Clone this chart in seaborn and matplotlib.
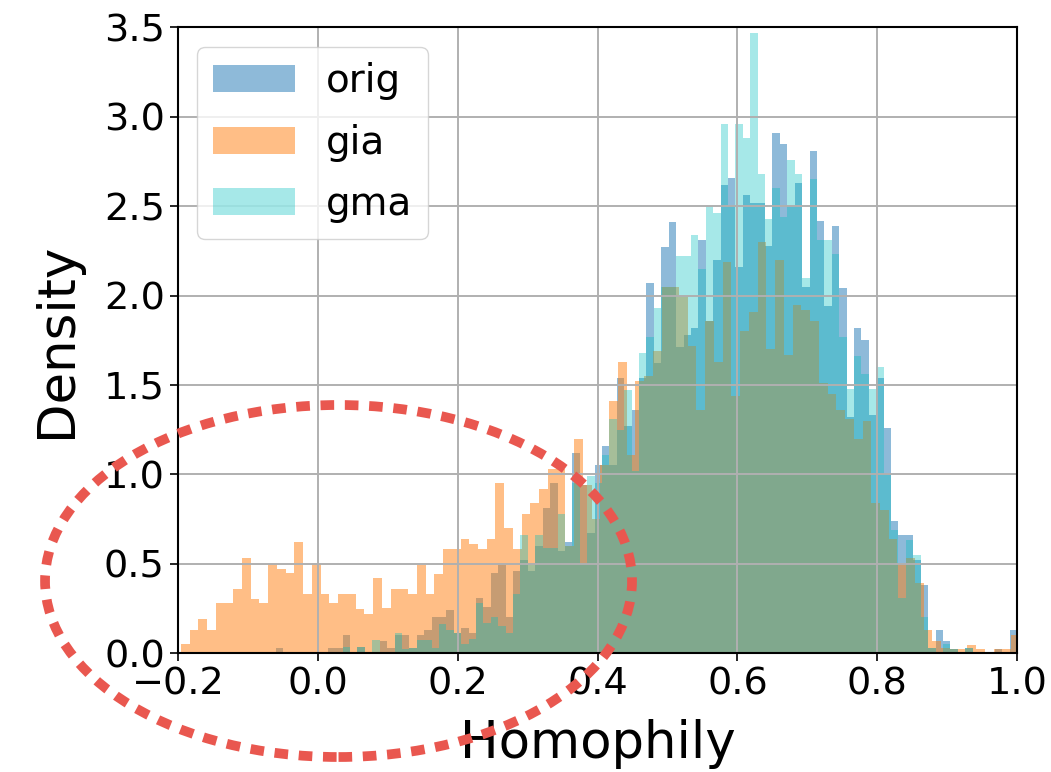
import numpy as np
import matplotlib
matplotlib.use("Agg")
import matplotlib.pyplot as plt
from matplotlib.patches import Patch, Ellipse
import seaborn as sns

# ---------------- data (densities per bin) ----------------
series_names = ["orig", "gia", "gma"]

# gia: 96 bins of width 0.0125 starting at -0.196
gia_start, gia_width = -0.196, 0.0125
gia_density = [
    0.05, 0.13, 0.19, 0.13, 0.28, 0.28, 0.36, 0.53, 0.30, 0.28,
    0.50, 0.47, 0.45, 0.62, 0.33, 0.50, 0.33, 0.28, 0.33, 0.33,
    0.245, 0.22, 0.42, 0.25, 0.36, 0.36, 0.33, 0.49, 0.33, 0.44,
    0.58, 0.58, 0.64, 0.61, 0.58, 0.64, 0.95, 0.70, 0.58, 0.78,
    0.84, 0.92, 1.03, 1.03, 0.60, 1.20, 0.94, 0.75, 1.05, 1.41,
    1.63, 1.11, 1.52, 1.55, 1.69, 2.05, 2.05, 2.00, 1.72, 1.36,
    1.86, 1.63, 2.19, 1.44, 1.80, 1.91, 2.30, 1.70, 2.20, 1.67,
    1.95, 1.92, 1.86, 1.51, 1.45, 1.36, 1.31, 1.20, 1.30, 0.84,
    0.80, 0.64, 0.50, 0.53, 0.39, 0.13, 0.07, 0.03, 0.02, 0.02,
    0.045, 0.02, 0.0, 0.02, 0.02, 0.10,
]

# orig and gma: 100 bins of width 0.0106 starting at -0.06
og_start, og_width = -0.06, 0.0106
orig_density = [
    0.03, 0.0, 0.0, 0.0, 0.0, 0.0, 0.0, 0.03, 0.03, 0.10,
    0.0, 0.035, 0.0, 0.0, 0.065, 0.03, 0.10, 0.10, 0.03, 0.10,
    0.13, 0.20, 0.20, 0.24, 0.11, 0.14, 0.11, 0.31, 0.26, 0.45,
    0.49, 0.20, 0.46, 0.52, 0.46, 0.60, 0.81, 0.95, 0.57, 0.62,
    1.12, 0.94, 0.67, 1.05, 1.16, 1.05, 1.54, 1.27, 1.36, 1.54,
    2.07, 1.62, 2.27, 2.41, 1.71, 1.78, 1.82, 2.31, 1.86, 2.20,
    2.62, 2.66, 2.16, 2.56, 2.52, 2.52, 2.28, 2.91, 2.85, 2.50,
    2.63, 2.05, 2.81, 2.42, 1.94, 2.39, 2.04, 1.32, 1.82, 1.75,
    1.33, 1.54, 1.26, 0.74, 0.66, 0.66, 0.52, 0.38, 0.03, 0.13,
    0.07, 0.02, 0.0, 0.03, 0.0, 0.0, 0.0, 0.02, 0.0, 0.13,
]
gma_density = [
    0.0, 0.0, 0.0, 0.0, 0.0, 0.0, 0.0, 0.0, 0.0, 0.035,
    0.0, 0.035, 0.0, 0.075, 0.0, 0.0, 0.11, 0.02, 0.03, 0.075,
    0.075, 0.03, 0.16, 0.13, 0.11, 0.05, 0.08, 0.28, 0.17, 0.20,
    0.15, 0.11, 0.33, 0.66, 0.50, 0.66, 0.59, 0.59, 0.78, 0.60,
    0.95, 0.50, 0.99, 0.95, 1.11, 1.31, 1.25, 1.47, 1.02, 1.68,
    1.77, 1.93, 2.05, 2.05, 2.22, 2.22, 2.34, 2.15, 2.50, 2.46,
    2.96, 2.50, 2.96, 2.88, 3.47, 2.68, 2.43, 2.60, 2.44, 2.76,
    2.68, 2.10, 2.65, 2.31, 2.31, 2.23, 1.77, 1.48, 1.66, 1.56,
    1.48, 1.60, 1.00, 0.69, 0.31, 0.63, 0.55, 0.20, 0.03, 0.0,
    0.05, 0.02, 0.0, 0.03, 0.0, 0.0, 0.0, 0.0, 0.0, 0.0,
]

x_ticks = [-0.2, 0.0, 0.2, 0.4, 0.6, 0.8, 1.0]
y_ticks = [0.0, 0.5, 1.0, 1.5, 2.0, 2.5, 3.0, 3.5]
x_label = "Homophily"
y_label = "Density"

# ---------------- styling ----------------
colors = {"orig": "#1f77b4", "gia": "#ff7f0e", "gma": "#00bfbf"}
alphas = {"orig": 0.5, "gia": 0.5, "gma": 0.35}

fig = plt.figure(figsize=(10.51, 7.72), dpi=100)
ax = fig.add_axes([0.1694, 0.1541, 0.7983, 0.8103])


def edges_for(start, width, n):
    return start + width * np.arange(n + 1)


gia_edges = edges_for(gia_start, gia_width, len(gia_density))
og_edges = edges_for(og_start, og_width, len(orig_density))

spec = [
    ("orig", og_edges, orig_density),
    ("gia", gia_edges, gia_density),
    ("gma", og_edges, gma_density),
]
for name, edges, dens in spec:
    centers = (edges[:-1] + edges[1:]) / 2
    sns.histplot(x=centers, weights=np.asarray(dens), bins=edges.tolist(),
                 stat="count", color=colors[name], alpha=alphas[name],
                 linewidth=0, edgecolor="none", ax=ax)

ax.set_xlim(-0.2, 1.0)
ax.set_ylim(0, 3.5)
ax.set_xticks(x_ticks)
ax.set_yticks(y_ticks)
ax.set_xticklabels([f"{v:.1f}".replace("-", "\u2212") for v in x_ticks])
ax.set_yticklabels([f"{v:.1f}" for v in y_ticks])
ax.tick_params(labelsize=27.5, length=6, width=1.2)
ax.set_xlabel(x_label, fontsize=37, labelpad=12)
ax.set_ylabel(y_label, fontsize=37, labelpad=16)
ax.grid(True, color="#b0b0b0", linewidth=1.4)
for s in ax.spines.values():
    s.set_linewidth(1.5)

handles = [Patch(facecolor=colors[n], alpha=alphas[n], edgecolor="none") for n in series_names]
ax.legend(handles, series_names, loc="upper left", fontsize=28,
          framealpha=0.8, handlelength=2.1, labelspacing=0.6,
          borderaxespad=0.5)

ell = Ellipse((0.3221, 0.2474), 0.5585, 0.456, transform=fig.transFigure,
              fill=False, edgecolor="#e9574f", linewidth=7,
              linestyle=(0, (1.4, 1.1)), zorder=10)
ell.set_capstyle("butt")
fig.add_artist(ell)

fig.savefig("out.png", dpi=100)
